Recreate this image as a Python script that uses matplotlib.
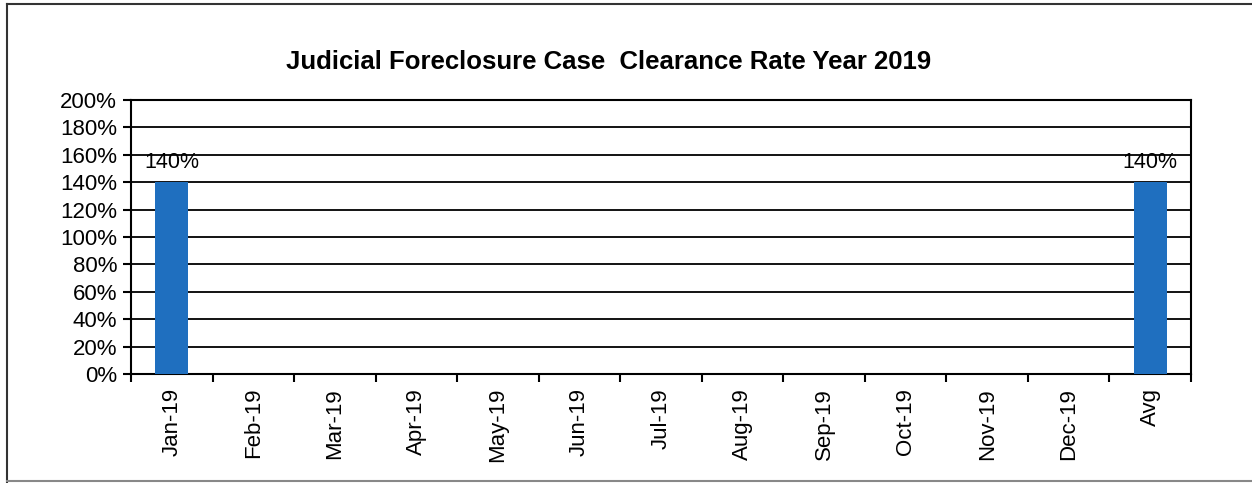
import matplotlib.pyplot as plt
from matplotlib.lines import Line2D
from matplotlib.ticker import FuncFormatter, MultipleLocator

months = ['Jan-19', 'Feb-19', 'Mar-19', 'Apr-19', 'May-19', 'Jun-19',
          'Jul-19', 'Aug-19', 'Sep-19', 'Oct-19', 'Nov-19', 'Dec-19', 'Avg']
rates = [140, None, None, None, None, None, None, None, None, None, None, None, 140]

plt.rcParams['font.family'] = ['Liberation Sans', 'DejaVu Sans']

fig = plt.figure(figsize=(12.52, 4.83), dpi=100)
W, H = 1252, 483
ax = fig.add_axes([131 / W, 1 - 374 / H, (1191 - 131) / W, (374 - 100) / H])

x = list(range(len(months)))
vals = [v if v is not None else 0 for v in rates]
ax.bar(x, vals, width=0.4, color='#1f6fbf', zorder=3)
for xi, v in zip(x, rates):
    if v is not None:
        ax.text(xi, v + 7, f'{v}%', ha='center', va='bottom', fontsize=15.5, zorder=4)

ax.set_xlim(-0.5, len(months) - 0.5)
ax.set_ylim(0, 200)
ax.yaxis.set_major_locator(MultipleLocator(20))
ax.yaxis.set_major_formatter(FuncFormatter(lambda v, p: f'{v:.0f}%'))
ax.grid(axis='y', color='black', linewidth=1.3, zorder=1)
ax.set_axisbelow(True)

# ticks at category boundaries, labels at centers
ax.set_xticks([i - 0.5 for i in range(len(months) + 1)])
ax.set_xticklabels([])
ax.set_xticks(x, minor=True)
ax.set_xticklabels(months, minor=True, rotation=90, fontsize=16)
ax.tick_params(axis='x', which='minor', length=0, pad=10)
ax.tick_params(axis='x', which='major', length=6, width=1.5, direction='out')
ax.tick_params(axis='y', length=6, width=1.5, direction='out', labelsize=16, pad=4)

for s in ax.spines.values():
    s.set_linewidth(1.5)

fig.text(609 / W, 1 - 62 / H, 'Judicial Foreclosure Case  Clearance Rate Year 2019',
         ha='center', va='center', fontsize=18.5, fontweight='bold')

# outer border of the chart box
fig.add_artist(Line2D([7 / W, 7 / W], [0, 1 - 4 / H], color='#333333', lw=1.5))
fig.add_artist(Line2D([7 / W, 1], [1 - 4 / H, 1 - 4 / H], color='#333333', lw=1.5))
fig.add_artist(Line2D([7 / W, 1], [1 - 481 / H, 1 - 481 / H], color='#888888', lw=1.5))

fig.savefig('out.png', dpi=100)
